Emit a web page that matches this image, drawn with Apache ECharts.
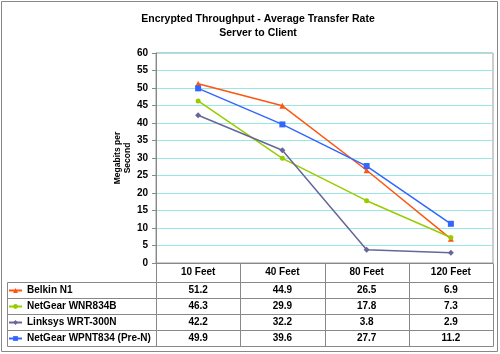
<!DOCTYPE html>
<html>
<head>
<meta charset="utf-8">
<script src="https://cdn.jsdelivr.net/npm/echarts@6/dist/echarts.min.js"></script>
<style>
  html, body { margin: 0; padding: 0; background: #fff; }
  #chart { width: 500px; height: 354px; }
</style>
</head>
<body>
<div id="chart"></div>
<script>
// data
const categories = ['10 Feet', '40 Feet', '80 Feet', '120 Feet']
const seriesNames = ['Belkin N1', 'NetGear WNR834B', 'Linksys WRT-300N', 'NetGear WPNT834 (Pre-N)']
const belkinN1 = [51.2, 44.9, 26.5, 6.9]
const netgearWNR834B = [46.3, 29.9, 17.8, 7.3]
const linksysWRT300N = [42.2, 32.2, 3.8, 2.9]
const netgearWPNT834 = [49.9, 39.6, 27.7, 11.2]
const yMin = 0
const yMax = 60
const yStep = 5

const seriesData = [belkinN1, netgearWNR834B, linksysWRT300N, netgearWPNT834]
const colors = ['#FF5511', '#99CC00', '#666699', '#3366FF']
const symbols = ['triangle', 'circle', 'diamond', 'rect']

const font = 'Arial, "Liberation Sans", sans-serif'
const lineGray = '#888'

// table geometry
const tableLeft = 7.5
const plotLeft = 156.5
const plotRight = 493.5
const plotBottom = 263.5
const rowTop = 282.5
const rowH = 16

const chart = echarts.init(document.getElementById('chart'))

chart.setOption({
  animation: false,
  title: {
    text: 'Encrypted Throughput - Average Transfer Rate\nServer to Client',
    left: 253,
    textAlign: 'center',
    top: 7,
    textStyle: { fontFamily: font, fontSize: 10.5, fontWeight: 'bold', color: '#000', lineHeight: 14 }
  },
  legend: {
    orient: 'vertical',
    left: 8,
    top: rowTop + 3,
    padding: 0,
    itemWidth: 13,
    itemHeight: 6,
    itemGap: 6,
    selectedMode: false,
    data: seriesNames,
    textStyle: { fontFamily: font, fontSize: 10, fontWeight: 'bold', color: '#000', lineHeight: 10, padding: [0, 0, 0, 0] }
  },
  grid: {
    left: 156,
    right: 7,
    top: 53,
    bottom: 91,
    show: true,
    borderColor: '#999',
    borderWidth: 1
  },
  xAxis: {
    type: 'category',
    data: categories,
    boundaryGap: true,
    axisLine: { lineStyle: { color: lineGray } },
    axisTick: { show: false },
    axisLabel: { margin: 4, fontFamily: font, fontSize: 10, fontWeight: 'bold', color: '#000' }
  },
  yAxis: {
    type: 'value',
    min: yMin,
    max: yMax,
    interval: yStep,
    name: 'Megabits per\nSecond',
    nameLocation: 'middle',
    nameGap: 23,
    nameMoveOverlap: false,
    nameTextStyle: { fontFamily: font, fontSize: 8.5, fontWeight: 'bold', color: '#000', lineHeight: 10 },
    axisLine: { show: true, lineStyle: { color: lineGray } },
    axisTick: { show: true, length: 4, lineStyle: { color: lineGray } },
    axisLabel: { margin: 8, fontFamily: font, fontSize: 10, fontWeight: 'bold', color: '#000' },
    splitLine: { lineStyle: { color: '#99E6E6', width: 1 } }
  },
  series: seriesNames.map((name, i) => ({
    name: name,
    type: 'line',
    data: seriesData[i],
    symbol: symbols[i],
    symbolSize: i === 1 ? 5 : 6,
    color: colors[i],
    lineStyle: { width: 1.5, color: colors[i] },
    itemStyle: { color: colors[i] }
  }))
})

// data table under the plot, built from the same arrays
const colEdges = [plotLeft]
const colCenters = []
categories.forEach((c, i) => {
  colCenters.push(chart.convertToPixel({ xAxisIndex: 0 }, i))
})
const colW = (plotRight - plotLeft) / categories.length
for (let i = 1; i <= categories.length; i++) colEdges.push(plotLeft + colW * i)

const graphics = []
const tableBottom = rowTop + rowH * seriesNames.length

// outer frame
graphics.push({
  type: 'rect',
  shape: { x: 1.5, y: 1.5, width: 496, height: 350 },
  style: { fill: null, stroke: '#888', lineWidth: 1 },
  silent: true
})

// horizontal rules
for (let r = 0; r <= seriesNames.length; r++) {
  const y = rowTop + rowH * r
  graphics.push({
    type: 'line',
    shape: { x1: tableLeft, y1: y, x2: plotRight, y2: y },
    style: { stroke: lineGray, lineWidth: 1 },
    silent: true
  })
}
// vertical rules
graphics.push({
  type: 'line',
  shape: { x1: tableLeft, y1: rowTop, x2: tableLeft, y2: tableBottom },
  style: { stroke: lineGray, lineWidth: 1 },
  silent: true
})
colEdges.forEach(x => {
  const xx = Math.round(x - 0.5) + 0.5
  graphics.push({
    type: 'line',
    shape: { x1: xx, y1: plotBottom, x2: xx, y2: tableBottom },
    style: { stroke: lineGray, lineWidth: 1 },
    silent: true
  })
})
// values
seriesData.forEach((vals, r) => {
  vals.forEach((v, c) => {
    graphics.push({
      type: 'text',
      x: colCenters[c],
      y: rowTop + rowH * r + rowH / 2,
      style: {
        text: v.toFixed(1),
        font: 'bold 10px ' + font,
        fill: '#000',
        align: 'center',
        verticalAlign: 'middle'
      },
      silent: true
    })
  })
})

chart.setOption({ graphic: graphics })
</script>
</body>
</html>
